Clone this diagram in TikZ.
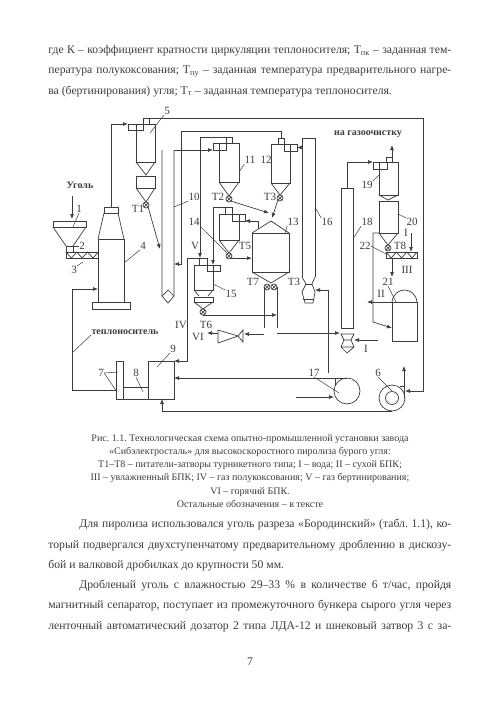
\documentclass[tikz,border=0pt]{standalone}
\usepackage{fontspec}
\setmainfont{Liberation Serif}
\usetikzlibrary{arrows.meta}
\definecolor{ink}{RGB}{60,60,60}
\frenchspacing
\begin{document}
\begin{tikzpicture}[x=1pt,y=-1pt,>={Latex[length=5pt,width=4pt]},line width=.7pt,
 unit/.style 2 args={draw=ink,anchor=north west,inner sep=0pt,outer sep=0pt,minimum width=#1pt,minimum height=#2pt},
 feeder/.style={circle,draw=ink,inner sep=0pt,outer sep=0pt,minimum size=6pt,path picture={
   \draw[ink] (path picture bounding box.north west)--(path picture bounding box.south east)
   (path picture bounding box.north east)--(path picture bounding box.south west);}},
 fan/.style={circle,draw=ink,inner sep=0pt,outer sep=0pt,minimum size=#1pt},
 lab/.style={text=ink,inner sep=0pt,font=\fontsize{11}{11}\selectfont},
 boldlab/.style={lab,font=\fontsize{10}{10}\selectfont\bfseries},
 pipe/.style={draw=ink},
 arr/.style={->,draw=ink},
 lead/.style={draw=ink,line width=.5pt},
 pagetext/.style={text=ink,inner sep=0pt,anchor=north west,text width=403pt,align=justify,font=\fontsize{11.7}{20.3}\selectfont},
 captext/.style={text=ink,inner sep=0pt,anchor=north,align=center,font=\fontsize{10}{13.2}\selectfont}]
\useasboundingbox (0,0) rectangle (500,710);
% page text
\node[pagetext] (top) at (48,45) {где К -- коэффициент кратности циркуляции теплоносителя; Т\textsubscript{пк} -- заданная тем-\linebreak
 пература полукоксования; Т\textsubscript{пу} -- заданная температура предварительного нагре-\linebreak
 ва (бертинирования) угля; Т\textsubscript{т} -- заданная температура теплоносителя.};
\node[captext] (caption) at (250,434) {Рис. 1.1. Технологическая схема опытно-промышленной установки завода\\
 «Сибэлектросталь» для высокоскоростного пиролиза бурого угля:\\
 Т1--Т8 -- питатели-затворы турникетного типа; I -- вода; II -- сухой БПК;\\
 III -- увлажненный БПК; IV -- газ полукоксования; V -- газ бертинирования;\\
 VI -- горячий БПК.\\
 Остальные обозначения -- в тексте};
\node[pagetext] (body) at (48,519) {\hspace*{31pt}Для пиролиза использовался уголь разреза «Бородинский» (табл. 1.1), ко-\linebreak
 торый подвергался двухступенчатому предварительному дроблению в дискозу-\linebreak
 бой и валковой дробилках до крупности 50 мм.\\
 \hspace*{31pt}Дробленый уголь с влажностью 29--33 \% в количестве 6 т/час, пройдя\linebreak
 магнитный сепаратор, поступает из промежуточного бункера сырого угля через\linebreak
 ленточный автоматический дозатор 2 типа ЛДА-12 и шнековый затвор 3 с за-\parfillskip=0pt\par};
\node[lab,font=\fontsize{11.7}{12}\selectfont] (pageno) at (250,662) {7};
% equipment
\node[unit={33}{6}] (hop1) at (53,221) {};
\node[unit={7}{6}] (feed2) at (66,246) {};
\node[unit={32}{6}] (screw3) at (66,252) {};
\node[unit={26}{63}] (col4) at (98,239) {};
\node[unit={14}{6}] (cap4) at (104,207) {};
\node[unit={38}{7}] (base4) at (92,302) {};
\node[unit={19}{38}] (cyc5) at (136,124) {};
\node[unit={15}{6}] (in5) at (128,124) {};
\node[unit={6}{6}] (out5) at (143,118) {};
\node[unit={19}{12}] (bin5) at (136,176) {};
\node[unit={12}{146},draw=none] (col10) at (162,150) {};
\node[unit={20}{39}] (cyc11) at (219,143) {};
\node[unit={13}{7}] (in11) at (213,143) {};
\node[unit={6}{6}] (out11) at (226,137) {};
\node[unit={19}{39}] (cyc12) at (271,144) {};
\node[unit={13}{7}] (in12) at (284,144) {};
\node[unit={6}{6}] (out12) at (278,138) {};
\node[unit={20}{26}] (cyc14) at (219,214) {};
\node[unit={13}{7}] (in14) at (232,214) {};
\node[unit={7}{7}] (out14) at (225,207) {};
\node[unit={19}{25}] (cyc15) at (194,265) {};
\node[unit={13}{6}] (in15) at (207,265) {};
\node[unit={8}{7}] (out15) at (199,258) {};
\node[unit={19}{5}] (bin15) at (194,297) {};
\node[unit={37}{39}] (reac13) at (252,233) {};
\node[unit={13}{139},draw=none] (col16) at (302,138) {};
\node[unit={12}{140},draw=none] (col18) at (341,188) {};
\node[unit={7}{38}] (box7) at (116,361) {};
\node[unit={25}{12}] (box8) at (123,387) {};
\node[unit={26}{38}] (box9) at (148,361) {};
\node[unit={19}{33}] (cyc19) at (379,162) {};
\node[unit={14}{7}] (in19) at (373,162) {};
\node[unit={6}{5}] (out19) at (386,157) {};
\node[unit={19}{32}] (bin20) at (379,201) {};
\node[unit={31}{6}] (screw22) at (386,252) {};
\node[unit={25}{39}] (tank21) at (392,302) {};
\node[fan=26] (fan17) at (347,391) {};
\node[fan=26] (fan6) at (392,398) {};
\node[fan=13] (hub6) at (392,398) {};
\node[feeder] (t1) at (146,205) {};
\node[feeder] (t2) at (229,199) {};
\node[feeder] (t3) at (280,198) {};
\node[feeder] (t5) at (229,256) {};
\node[feeder] (t6) at (203,312) {};
\node[feeder] (t7) at (267,287) {};
\node[feeder] (t3b) at (274,287) {};
\node[feeder] (t8) at (388,248) {};
% shapes of the units
\draw[pipe] (hop1.south west)--(feed2.north west) (hop1.south east)--(feed2.north east);
\draw[pipe] (screw3.north west)--++(5.4,6)--++(5.4,-6)--++(5.4,6)--++(5.4,-6)--++(5.4,6)--++(5.4,-6);
\draw[pipe] (col4.north west)--(cap4.south west) (col4.north east)--(cap4.south east);
\draw[pipe] (cyc5.south west)--(146,175)--(cyc5.south east);
\draw[pipe] (bin5.south west)--(t1.north)--(bin5.south east);
\draw[pipe] (col10.north west)--(col10.south west)--++(6,7)--++(6,-7)--(col10.north east);
\draw[pipe] (col10.south west)--++(6,-6)--++(6,6);
\draw[pipe] (cyc11.south west)--(t2.north)--(cyc11.south east);
\draw[pipe] (cyc12.south west)--(t3.north)--(cyc12.south east);
\draw[pipe] (cyc14.south west)--(t5.north)--(cyc14.south east);
\draw[pipe] (cyc15.south west)--(199,296) (cyc15.south east)--(208,296);
\draw[pipe] (bin15.south west)--(t6.north)--(bin15.south east);
\draw[pipe] (reac13.north west)--(271,221)--(reac13.north east);
\draw[pipe] (reac13.south west)--(271,283)--(reac13.south east);
\draw[pipe] (t7.west)--(264,328) (t3b.east)--(277,328);
\draw[pipe] (col16.south west)--(col16.north west)--(col16.north east)--(col16.south east);
\draw[pipe] (col16.south west)--(306,284)--(302,292)--(305,303)--(313,303)--(315,292)--(312,284)--(col16.south east);
\draw[pipe] (306,284)--(312,284) (303,299)--(314,299);
\draw[pipe] (col18.south west)--(col18.north west)--(col18.north east)--(col18.south east)--cycle;
\draw[pipe] (341,334)--(354,334)--(351,340)--(344,340)--cycle;
\draw[pipe] (344,340)--(341,347)--(347,353)--(354,347)--(351,340) (341,347)--(354,347);
\draw[pipe] (218,330)--(238,336)--(218,343)--cycle;
\draw[pipe] (243,330)--(238,336)--(243,342)--cycle;
\draw[pipe] (cyc19.south west)--(388,200)--(cyc19.south east);
\draw[pipe] (bin20.south west)--(t8.north)--(bin20.south east);
\draw[pipe] (screw22.north west)--++(5.2,6)--++(5.2,-6)--++(5.2,6)--++(5.2,-6)--++(5.2,6)--++(5.2,-6);
\draw[pipe] (tank21.north west) .. controls (394,286) and (415,286) .. (tank21.north east);
\draw[pipe] (335,378)--(335,386);
\draw[pipe] (400,386)--(404,386)--(404,398);
% free ends
\coordinate (coal) at (72,196); \coordinate (coalin) at (72,219);
\coordinate (in10a) at (160,249); \coordinate (in10b) at (174,264);
\coordinate (in13a) at (269,213); \coordinate (in13b) at (272,218);
\coordinate (gas13) at (258,229); \coordinate (t15) at (213,265);
\coordinate (gasV) at (200,258); \coordinate (out6) at (404,366);
\coordinate (ne) at (423,118); \coordinate (in6) at (405,391);
\coordinate (ret7) at (116,390); \coordinate (in4) at (98,289);
\coordinate (in9) at (162,399); \coordinate (air17) at (296,397);
\coordinate (top17) at (328,373); \coordinate (in16) at (315,290);
\coordinate (vent) at (264,334); \coordinate (valve) at (244,334);
\coordinate (out13) at (277,333); \coordinate (in18) at (340,333);
\coordinate (water) at (378,340); \coordinate (inq) at (354,340);
\coordinate (gasout) at (392,145); \coordinate (wat22) at (411,233);
\coordinate (in22) at (411,252); \coordinate (out22) at (392,258);
\coordinate (in21) at (392,277); \coordinate (dry) at (367,302);
% connectors
\draw[arr] (coal)--(coalin);
\draw[arr] (cap4.north) |- (in5.north west);
\draw[arr] (out5.north east)--(ne)|-(in6);
\draw[arr] (t1.south east)--(in10a);
\draw[arr] (col10.north east)--(in11.south west);
\draw[arr] (out12.north) |- (181,131) |- (in10b);
\draw[arr] (out11.north east) -| (gasV);
\draw[arr] (out15.north west) -| (187,361)--(box9.north east);
\draw[arr] (out14.north west) -| (t15);
\draw[arr] (col16.west |- in12.east)--(in12.east);
\draw[arr] (gas13) |- (in14.south east);
\draw[arr] (t2.south east)--(in13a);
\draw[arr] (t3.south west)--(in13b);
\draw[arr] (t5.south east)--(reac13.west |- t5.south east);
\draw[arr] (t6.south)--(277,315);
\draw[arr] (vent)--(valve);
\draw[arr] (218,333)--(207,333);
\draw[arr] (out13)--(in18);
\draw[arr] (water)--(inq);
\draw[arr] (top17) |- (in16);
\draw[arr] (fan17.north)--(box9.east |- fan17.north);
\draw[arr] (air17)--(fan17.west |- air17);
\draw[arr] (fan6.south) -| (in9);
\draw[arr] (404,386)--(out6);
\draw[arr] (ret7)--(72,390)--(72,289)--(in4);
\draw[arr] (col18.north) |- (in19.north west);
\draw[arr] (out19.north east)--(gasout);
\draw[arr] (bin20.south west)--(373,233)--(373,322)--(tank21.west |- 0,328);
\draw[arr] (out22)--(in21);
\draw[arr] (wat22)--(in22);
\draw[arr] (tank21.north east)--(dry);
% labels
\node[boldlab] (coallab) at (80,185) {Уголь};
\node[boldlab] (gaslab) at (368,134) {на газоочистку};
\node[boldlab] (heatlab) at (125,332) {теплоноситель};
\node[lab] (lab1) at (79,209) {1};
\node[lab] (lab2) at (82,246) {2};
\node[lab] (lab3) at (74,270) {3};
\node[lab] (lab4) at (143,246) {4};
\node[lab] (lab5) at (167,111) {5};
\node[lab] (lab6) at (378,373) {6};
\node[lab] (lab7) at (101,373) {7};
\node[lab] (lab8) at (136,373) {8};
\node[lab] (lab9) at (173,349) {9};
\node[lab] (lab10) at (194,197) {10};
\node[lab] (lab11) at (250,160) {11};
\node[lab] (lab12) at (266,160) {12};
\node[lab] (lab13) at (293,222) {13};
\node[lab] (lab14) at (194,222) {14};
\node[lab] (lab15) at (231,294) {15};
\node[lab] (lab16) at (327,222) {16};
\node[lab] (lab17) at (314,373) {17};
\node[lab] (lab18) at (367,222) {18};
\node[lab] (lab19) at (367,185) {19};
\node[lab] (lab20) at (412,222) {20};
\node[lab] (lab21) at (388,282) {21};
\node[lab] (lab22) at (365,246) {22};
\node[lab] (labt1) at (138,209) {Т1};
\node[lab] (labt2) at (218,197) {Т2};
\node[lab] (labt3) at (270,197) {Т3};
\node[lab] (labt3b) at (294,282) {Т3};
\node[lab] (labt5) at (245,246) {Т5};
\node[lab] (labt6) at (206,325) {Т6};
\node[lab] (labt7) at (253,282) {Т7};
\node[lab] (labt8) at (400,246) {Т8};
\node[lab] (labI) at (406,233) {I};
\node[lab] (labIb) at (366,349) {I};
\node[lab] (labII) at (381,294) {II};
\node[lab] (labIII) at (407,270) {III};
\node[lab] (labIV) at (181,325) {IV};
\node[lab] (labV) at (195,246) {V};
\node[lab] (labVI) at (198,337) {VI};
% leaders
\coordinate (l1) at (73,227); \coordinate (l3) at (83,262); \coordinate (l4) at (124,263);
\coordinate (l5) at (150,133); \coordinate (l6) at (392,391); \coordinate (l7a) at (118,372);
\coordinate (l7b) at (117,392); \coordinate (l8) at (143,392); \coordinate (l9) at (157,367);
\coordinate (l10) at (174,207); \coordinate (l11) at (239,172); \coordinate (l13) at (285,233);
\coordinate (l14) at (227,253); \coordinate (l15) at (213,284); \coordinate (l16) at (315,207);
\coordinate (l17) at (339,393); \coordinate (l18) at (353,239); \coordinate (l19) at (379,175);
\coordinate (l20) at (398,214); \coordinate (l21) at (396,302); \coordinate (l22) at (386,254);
\coordinate (lheat) at (72,353);
\draw[lead] (lab1.south)--(l1); \draw[lead] (feed2.north east)--(lab2.west);
\draw[lead] (lab3.north east)--(l3); \draw[lead] (lab4.south west)--(l4);
\draw[lead] (lab5.south west)--(l5); \draw[lead] (lab6.south)--(l6);
\draw[lead] (lab7.east)--(l7a); \draw[lead] (lab7.east)--(l7b);
\draw[lead] (lab8.south)--(l8); \draw[lead] (lab9.south west)--(l9);
\draw[lead] (lab10.south west)--(l10); \draw[lead] (lab11.south west)--(l11);
\draw[lead] (lab13.south west)--(l13); \draw[lead] (lab14.south east)--(l14);
\draw[lead] (lab15.north west)--(l15); \draw[lead] (lab16.north west)--(l16);
\draw[lead] (lab17.south)--(l17); \draw[lead] (lab18.south west)--(l18);
\draw[lead] (lab19.north east)--(l19); \draw[lead] (lab20.north west)--(l20);
\draw[lead] (lab21.south)--(l21); \draw[lead] (lab22.east)--(l22);
\draw[lead] (heatlab.south west)--(lheat);
\end{tikzpicture}
\end{document}
